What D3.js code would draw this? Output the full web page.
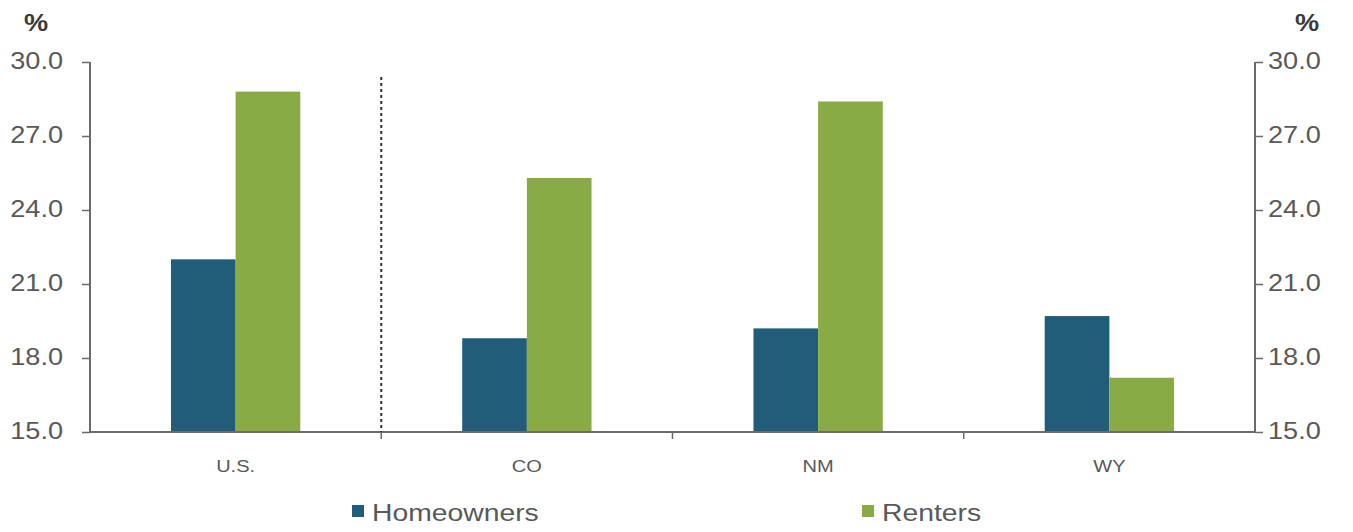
<!DOCTYPE html>
<html>
<head>
<meta charset="utf-8">
<script src="https://cdn.jsdelivr.net/npm/d3@7"></script>
<style>
  html, body { margin: 0; padding: 0; background: #fff; }
  svg { display: block; font-family: "Liberation Sans", Arial, sans-serif; }
</style>
</head>
<body>
<svg id="chart" width="1353" height="532"></svg>
<script>
const categories = ["U.S.", "CO", "NM", "WY"];
const seriesNames = ["Homeowners", "Renters"];
const homeowners = [22.0, 18.8, 19.2, 19.7];
const renters = [28.8, 25.3, 28.4, 17.2];
const yTicks = [15, 18, 21, 24, 27, 30];
const colors = ["#215d79", "#89ab45"];

const svg = d3.select("#chart");
const W = 1353, H = 532;
const x0 = 90, x1 = 1255;
const yTop = 62, yBot = 432;
const S = 1.18; // horizontal text stretch seen in the reference

const x = d3.scaleBand().domain(categories).range([x0, x1]).paddingInner(0).paddingOuter(0);
const y = d3.scaleLinear().domain([15, 30]).range([yBot, yTop]);
const groupW = x.bandwidth() * 0.444;
const xs = d3.scaleBand().domain(seriesNames).range([0, groupW]).padding(0);

const textColor = "#595959";
const axisColor = "#6b6b6b";

function stretchText(sel) {
  sel.each(function () {
    const t = d3.select(this);
    const xv = +t.attr("x") || 0;
    const yv = +t.attr("y") || 0;
    t.attr("x", xv / S).attr("y", yv).attr("transform", `scale(${S},1)`);
  });
}

// left axis
const leftAxis = svg.append("g").attr("transform", `translate(${x0},0)`)
  .call(d3.axisLeft(y).tickValues(yTicks).tickFormat(d3.format(".1f")).tickSize(8).tickPadding(19));
// right axis
const rightAxis = svg.append("g").attr("transform", `translate(${x1},0)`)
  .call(d3.axisRight(y).tickValues(yTicks).tickFormat(d3.format(".1f")).tickSize(8).tickPadding(5));
[leftAxis, rightAxis].forEach(g => {
  g.select(".domain").attr("stroke", axisColor).attr("stroke-width", 2).attr("d", `M0,${yTop}V${yBot}`);
  g.selectAll(".tick line").attr("stroke", axisColor).attr("stroke-width", 1.5);
  g.selectAll(".tick text").attr("fill", textColor).style("font-size", "23px").attr("dy", "0.3em");
  stretchText(g.selectAll(".tick text"));
});

// bars
const data = categories.map((c, i) => ({ cat: c, vals: [homeowners[i], renters[i]] }));
const groups = svg.append("g").selectAll("g").data(data).join("g")
  .attr("transform", d => `translate(${x(d.cat) + (x.bandwidth() - groupW) / 2},0)`);
groups.selectAll("rect").data(d => d.vals.map((v, j) => ({ v, s: seriesNames[j], j })))
  .join("rect")
  .attr("x", d => xs(d.s))
  .attr("width", xs.bandwidth())
  .attr("y", d => y(d.v))
  .attr("height", d => yBot - y(d.v))
  .attr("fill", d => colors[d.j]);

// x axis
const xAxis = svg.append("g").attr("transform", `translate(0,${yBot})`)
  .call(d3.axisBottom(x).tickSize(0).tickPadding(0));
xAxis.select(".domain").attr("stroke", axisColor).attr("stroke-width", 2).attr("d", `M${x0},0H${x1}`);
xAxis.selectAll(".tick text").attr("fill", textColor).style("font-size", "17px").attr("dy", "0").attr("y", 40);
stretchText(xAxis.selectAll(".tick text"));
// category boundary ticks
const boundaries = categories.slice(1).map(c => x(c));
xAxis.selectAll(".btick").data(boundaries).join("line").attr("class", "btick")
  .attr("x1", d => d).attr("x2", d => d).attr("y1", 0).attr("y2", 7)
  .attr("stroke", axisColor).attr("stroke-width", 1.5);

// dashed separator after U.S.
svg.append("line")
  .attr("x1", x(categories[1])).attr("x2", x(categories[1]))
  .attr("y1", 77).attr("y2", yBot)
  .attr("stroke", "#333").attr("stroke-width", 2).attr("stroke-dasharray", "3,3");

// % labels
[36, 1307].forEach(px => {
  svg.append("g").attr("transform", `translate(${px},31) scale(${S},1)`)
    .append("text").attr("text-anchor", "middle")
    .attr("fill", "#3a3a3a").style("font-size", "23px").style("font-weight", "bold").text("%");
});

// legend
const legendX = [352, 862];
const leg = svg.append("g").selectAll("g").data(seriesNames).join("g")
  .attr("transform", (d, i) => `translate(${legendX[i]},512)`);
leg.append("rect").attr("x", 0).attr("y", -7).attr("width", 12).attr("height", 12)
  .attr("fill", (d, i) => colors[i]);
leg.append("g").attr("transform", `translate(20,0) scale(${S},1)`)
  .append("text").attr("x", 0).attr("y", 0).attr("dy", "0.36em")
  .attr("fill", textColor).style("font-size", "24px").text(d => d);
</script>
</body>
</html>
